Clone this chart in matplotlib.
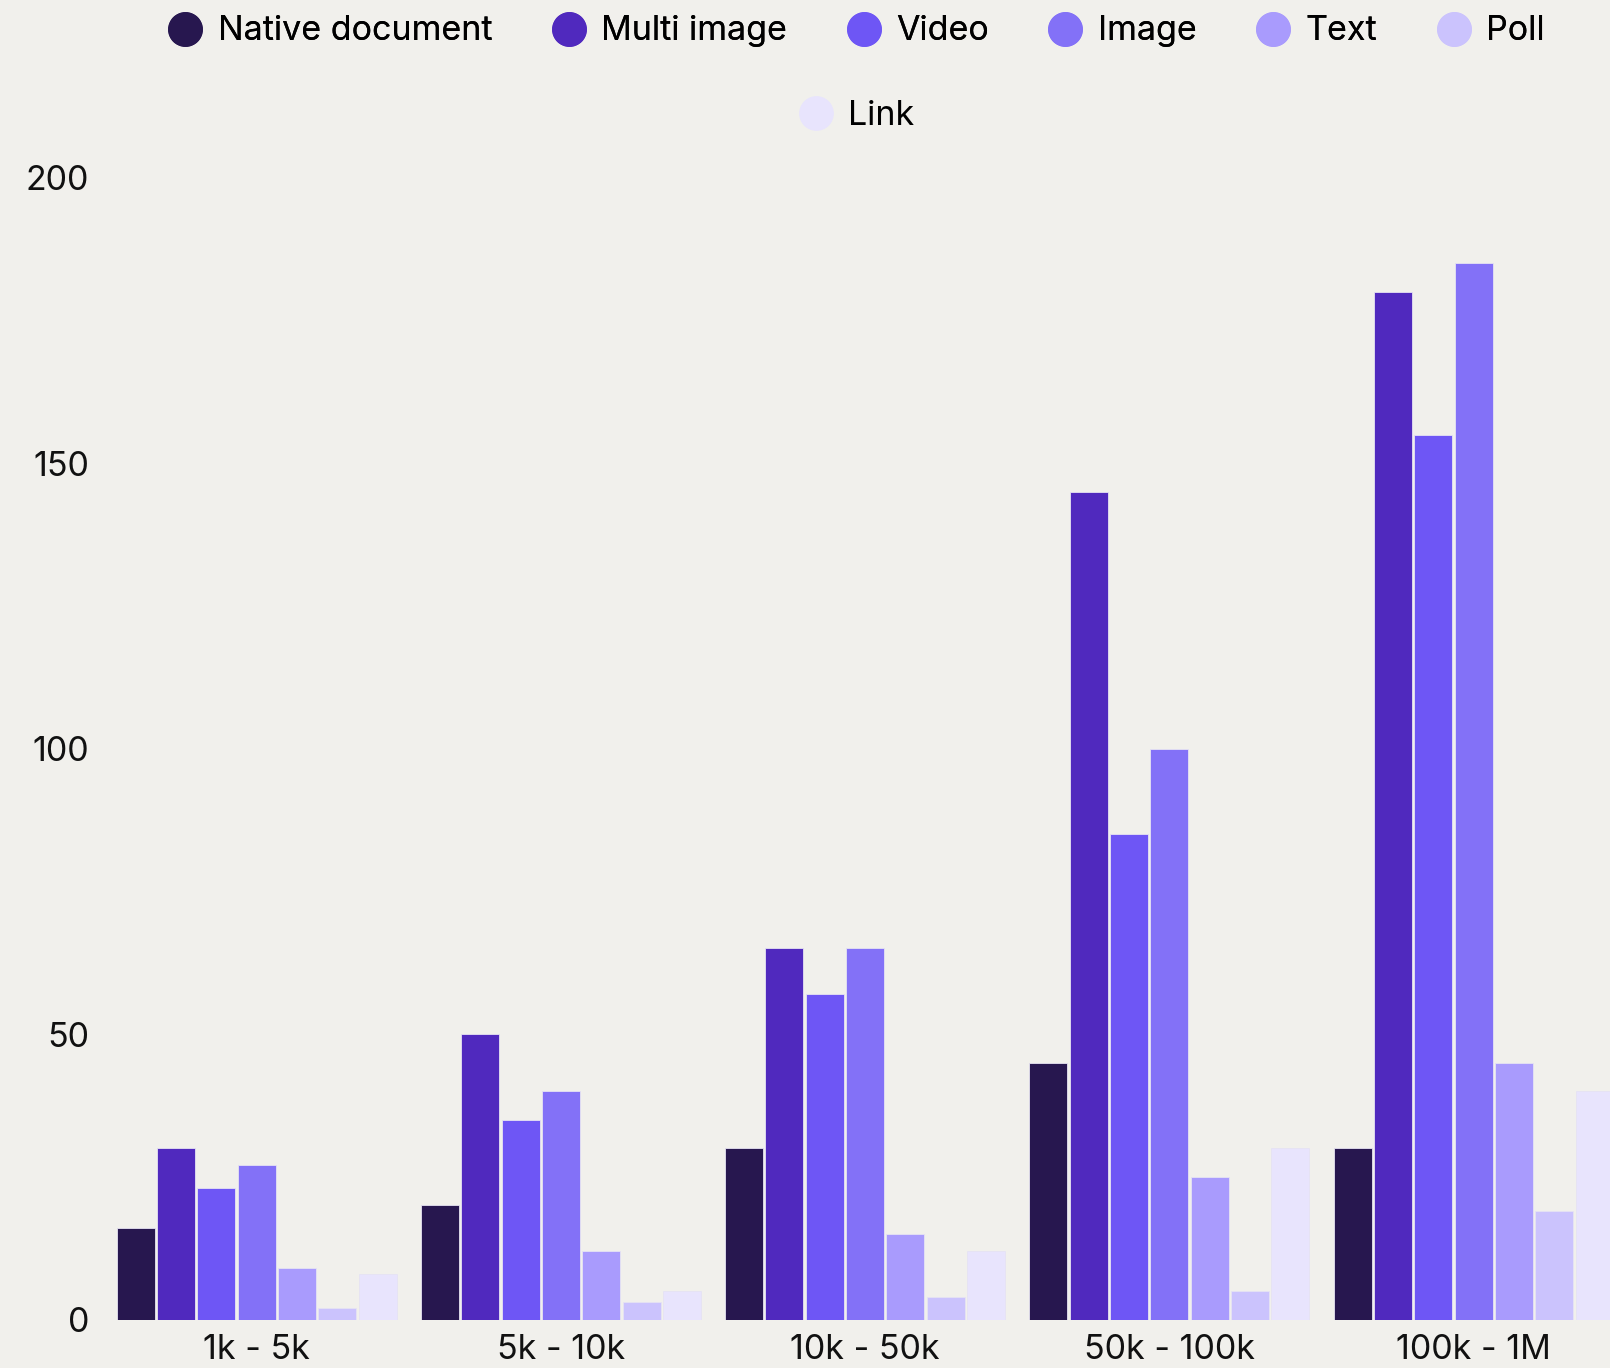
import matplotlib
matplotlib.use("Agg")
import matplotlib.pyplot as plt
import numpy as np
from matplotlib.lines import Line2D

# follower buckets and post formats
buckets = ["1k - 5k", "5k - 10k", "10k - 50k", "50k - 100k", "100k - 1M"]
formats = ["Native document", "Multi image", "Video", "Image", "Text", "Poll", "Link"]
colors = ["#27174f", "#5029be", "#6e56f5", "#8371f7", "#a99bfd", "#cbc3fd", "#e8e4fd"]

native_document = [16, 20, 30, 45, 30]
multi_image = [30, 50, 65, 145, 180]
video = [23, 35, 57, 85, 155]
image = [27, 40, 65, 100, 185]
text = [9, 12, 15, 25, 45]
poll = [2, 3, 4, 5, 19]
link = [8, 5, 12, 30, 40]

series = [native_document, multi_image, video, image, text, poll, link]

bg = "#f1f0ec"
fs = 24.5
plt.rcParams["font.family"] = ["Inter", "DejaVu Sans"]

fig = plt.figure(figsize=(16.1, 13.68), dpi=100, facecolor=bg)
ax = fig.add_axes([0.065, 0.03545, 0.9447, 0.8347])
ax.set_facecolor(bg)

x = np.arange(len(buckets))
slot = 0.1326
width = 0.125
for i, (vals, c) in enumerate(zip(series, colors)):
    offs = (i - 3) * slot
    ax.bar(x + offs, vals, width=width, color=c, edgecolor="#e6e3f3", linewidth=0.6,
           label=formats[i], zorder=2)

ax.set_xlim(-0.5, len(buckets) - 0.5)
ax.set_ylim(0, 200)
ax.set_yticks([0, 50, 100, 150, 200])
ax.set_xticks(x)
ax.set_xticklabels(buckets)
ax.tick_params(axis="both", length=0, labelsize=fs, colors="#111111")
ax.tick_params(axis="y", pad=11)
ax.tick_params(axis="x", pad=10.5)
for s in ax.spines.values():
    s.set_visible(False)


def handle(c):
    return Line2D([], [], linestyle="none", marker="o", markersize=24,
                  markerfacecolor=c, markeredgecolor=c)

h = [handle(c) for c in colors]
leg1 = fig.legend(h[:6], formats[:6], loc="center", bbox_to_anchor=(0.533, 0.977),
                  ncol=6, frameon=False, fontsize=fs, handlelength=0.8,
                  handletextpad=0.55, columnspacing=1.85)
fig.add_artist(leg1)
fig.legend(h[6:], formats[6:], loc="center", bbox_to_anchor=(0.533, 0.915),
           frameon=False, fontsize=fs, handlelength=0.8, handletextpad=0.55)

fig.savefig("out.png", dpi=100, facecolor=bg)
